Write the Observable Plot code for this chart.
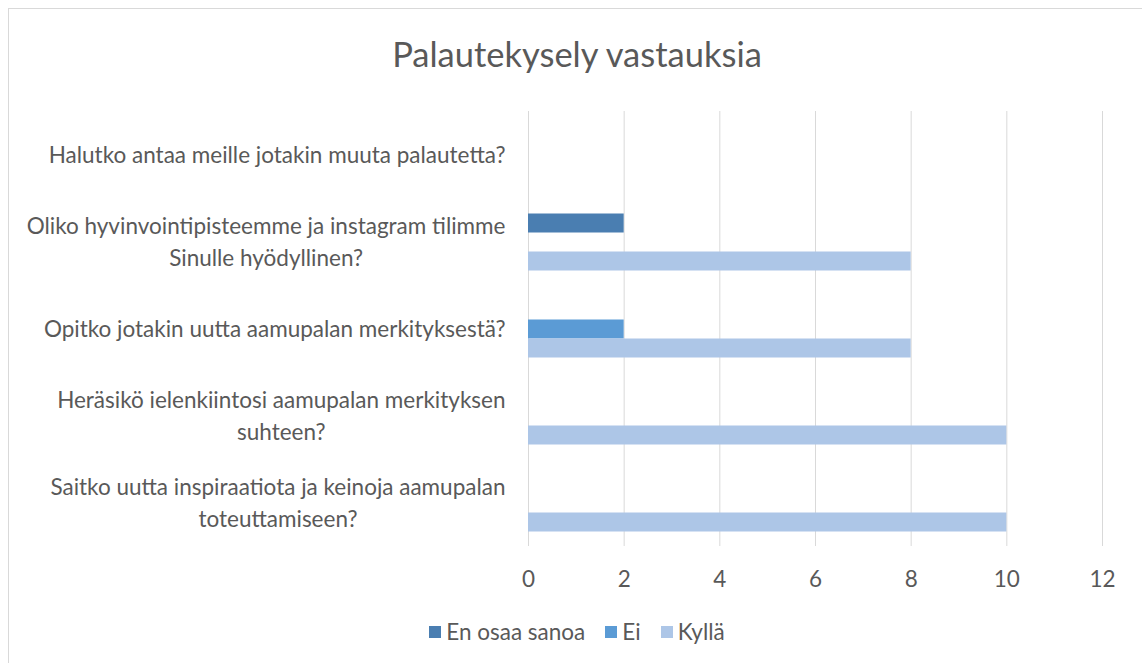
<!DOCTYPE html>
<html>
<head>
<meta charset="utf-8">
<script src="https://cdn.jsdelivr.net/npm/d3@7"></script>
<script src="https://cdn.jsdelivr.net/npm/@observablehq/plot@0.6"></script>
<style>
  html, body { margin: 0; padding: 0; background: #fff; overflow: hidden; }
  #chart { position: relative; width: 1142px; height: 663px; font-family: Lato, sans-serif; color: #595959; }
  #frame { position: absolute; left: 8px; top: 8px; width: 1150px; height: 670px; border: 1px solid #d9d9d9; box-sizing: border-box; }
  #title { position: absolute; left: 8px; width: 1138px; top: 34px; text-align: center; font-size: 34.5px; line-height: 40px; }
  #plot { position: absolute; left: 0; top: 0; }
  #legend { position: absolute; left: 8px; width: 1138px; top: 619px; display: flex; justify-content: center; gap: 20px; font-size: 22.5px; line-height: 26px; }
  .item { display: flex; align-items: center; gap: 5px; }
  .sw { width: 12px; height: 12px; display: inline-block; }
</style>
</head>
<body>
<div id="chart">
  <div id="frame"></div>
  <div id="title"></div>
  <div id="plot"></div>
  <div id="legend"></div>
</div>
<script>
const title = "Palautekysely vastauksia";
const questions = [
  "Halutko antaa meille jotakin muuta palautetta?",
  "Oliko hyvinvointipisteemme ja instagram tilimme Sinulle hyödyllinen?",
  "Opitko jotakin uutta aamupalan merkityksestä?",
  "Heräsikö ielenkiintosi aamupalan merkityksen suhteen?",
  "Saitko uutta inspiraatiota ja keinoja aamupalan toteuttamiseen?"
];
const questionLabels = [
  "Halutko antaa meille jotakin muuta palautetta?",
  "Oliko hyvinvointipisteemme ja instagram tilimme\nSinulle hyödyllinen?",
  "Opitko jotakin uutta aamupalan merkityksestä?",
  "Heräsikö ielenkiintosi aamupalan merkityksen\nsuhteen?",
  "Saitko uutta inspiraatiota ja keinoja aamupalan\ntoteuttamiseen?"
];
const series = ["En osaa sanoa", "Ei", "Kyllä"];
const enOsaaSanoa = [null, 2, null, null, null];
const ei = [null, null, 2, null, null];
const kylla = [null, 8, 8, 10, 10];
const xTicks = [0, 2, 4, 6, 8, 10, 12];
const colors = ["#4a7eb1", "#5b9bd5", "#adc6e7"];

const seriesValues = [enOsaaSanoa, ei, kylla];
const data = [];
series.forEach((s, si) => {
  seriesValues[si].forEach((v, qi) => {
    if (v != null) data.push({question: questions[qi], series: s, value: v});
  });
});

const fontSize = 22.5;
const fontFamily = "Lato";
const ctx = document.createElement("canvas").getContext("2d");
ctx.font = `${fontSize}px ${fontFamily}`;
const labelWidth = questionLabels.map(l => Math.max(...l.split("\n").map(t => ctx.measureText(t).width)));
const labelGap = 23;

document.getElementById("title").textContent = title;

const labelMarks = questions.map((q, i) => Plot.text([{question: q, label: questionLabels[i]}], {
  fy: "question",
  text: "label",
  frameAnchor: "left",
  textAnchor: "middle",
  dx: -labelGap - labelWidth[i] / 2,
  dy: -2,
  lineHeight: 1.4,
  fill: "#595959"
}));

const chart = Plot.plot({
  width: 1142,
  height: 600,
  marginLeft: 528,
  marginRight: 40,
  marginTop: 109.5,
  marginBottom: 53,
  style: {fontFamily, fontSize: fontSize + "px", color: "#595959", background: "transparent"},
  x: {domain: [0, 12], ticks: xTicks, tickSize: 0, tickPadding: 25, label: null},
  fy: {domain: questions, padding: 0, axis: null},
  y: {domain: series, paddingInner: 0, paddingOuter: 0.75, axis: null},
  color: {domain: series, range: colors},
  marks: [
    Plot.gridX(xTicks, {stroke: "#d9d9d9", strokeOpacity: 1, strokeWidth: 1}),
    Plot.barX(data, {fy: "question", y: "series", x: "value", fill: "series"}),
    ...labelMarks
  ]
});
document.getElementById("plot").appendChild(chart);

const legend = document.getElementById("legend");
series.forEach((s, i) => {
  const item = document.createElement("div");
  item.className = "item";
  const sw = document.createElement("span");
  sw.className = "sw";
  sw.style.background = colors[i];
  const t = document.createElement("span");
  t.textContent = s;
  item.appendChild(sw);
  item.appendChild(t);
  legend.appendChild(item);
});
</script>
</body>
</html>
